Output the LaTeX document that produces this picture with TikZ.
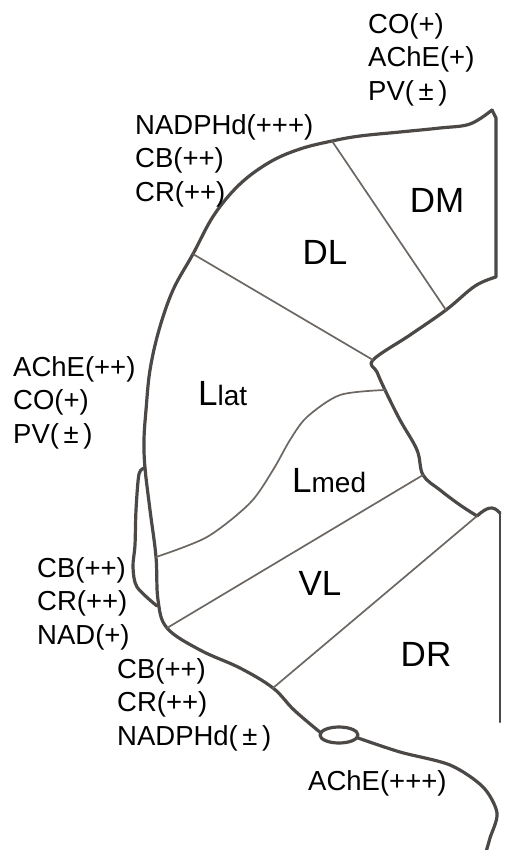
\documentclass[tikz,border=0pt]{standalone}
\usepackage{fontspec}
\setmainfont{Liberation Sans}

\definecolor{rimgray}{RGB}{76,72,70}
\definecolor{seamgray}{RGB}{108,103,98}

\begin{document}
\begin{tikzpicture}[x=1pt,y=-1pt,
  rim/.style={draw=rimgray,line width=3.2pt,line join=round,line cap=round},
  seam/.style={draw=seamgray,line width=1.7pt,line cap=round},
  stain/.style={anchor=west,align=left,inner sep=0pt,font=\fontsize{27.5}{33.5}\selectfont},
  area/.style={inner sep=0pt,font=\fontsize{35}{35}\selectfont}]
  \useasboundingbox (0,0) rectangle (504,850);

  % junctions on the outline
  \coordinate (tr) at (492,110);
  \coordinate (dmt) at (332,141);
  \coordinate (dlt) at (193,254);
  \coordinate (lobe) at (145,468);
  \coordinate (lmedl) at (156,557);
  \coordinate (vll) at (167,628);
  \coordinate (drl) at (273,688);
  \coordinate (knot) at (339,735);
  \coordinate (dmb) at (446,310);
  \coordinate (hub) at (373,360);
  \coordinate (lmedr) at (385,390);
  \coordinate (vlr) at (423,475);
  \coordinate (drt) at (477,516);

  % lateral outline
  \draw[rim] plot[smooth,tension=0.6] coordinates {(tr) (470,124) (440,128)
    (400,132) (360,136) (dmt) (300,149) (270,162) (240,184) (214,215) (dlt)
    (173,290) (159,330) (150,370) (146,410) (144,440) (lobe) (150,510)
    (lmedl) (158,600) (vll) (200,650) (240,668) (drl) (294,710) (321,733)};
  \draw[rim] (knot) ellipse [x radius=19,y radius=8];
  \draw[rim] plot[smooth] coordinates {(358,738) (400,752) (450,765)
    (483,787) (497,813) (490,838) (486,852)};
  % small lobe on the side
  \draw[rim] plot[smooth] coordinates {(lobe) (139,474) (136,510) (135,545)
    (133,567) (137,587) (157,606)};
  % medial outline
  \draw[rim] (tr) -- (496,118) -- (496,277)
    -- plot[smooth,tension=0.6] coordinates {(496,277) (475,286) (dmb)
    (410,335) (hub) (377,372) (lmedr) (400,420) (417,450) (vlr) (440,490)
    (460,505) (drt)};
  \draw[rim] (drt) .. controls (487,507) and (493,505) .. (500,513);
  \draw[rim,line width=2.2pt] (500,513) -- (500,722);

  % internal boundaries
  \draw[seam] (dmt) -- (dmb);
  \draw[seam] (dlt) -- (hub);
  \draw[seam] plot[smooth] coordinates {(lmedr) (340,395) (307,417) (290,440)
    (273,470) (250,503) (207,537) (lmedl)};
  \draw[seam] (vlr) -- (vll);
  \draw[seam] (drt) -- (drl);

  % subdivisions
  \node[area] (dm) at (437,200) {DM};
  \node[area] (dl) at (325,252) {DL};
  \node[area] (vl) at (320,583) {VL};
  \node[area] (dr) at (426,654) {DR};
  \node[anchor=base west,inner sep=0pt] (llat) at (198,405)
    {\fontsize{35}{35}\selectfont L\fontsize{28}{28}\selectfont lat};
  \node[anchor=base west,inner sep=0pt] (lmed) at (292,492)
    {\fontsize{35}{35}\selectfont L\fontsize{28}{28}\selectfont med};

  % staining
  \node[stain] (dmstain) at (368,59.5) {CO(+)\\AChE(+)\\PV(\,±\,)};
  \node[stain] (dlstain) at (135,160.5) {NADPHd(+++)\\CB(++)\\CR(++)};
  \node[stain] (llatstain) at (13,402.5) {AChE(++)\\CO(+)\\PV(\,±\,)};
  \node[stain] (vlstain) at (37,603.5) {CB(++)\\CR(++)\\NAD(+)};
  \node[stain] (vlstainb) at (117,704.5) {CB(++)\\CR(++)\\NADPHd(\,±\,)};
  \node[stain] (drstain) at (308,783.5) {AChE(+++)};
\end{tikzpicture}
\end{document}
